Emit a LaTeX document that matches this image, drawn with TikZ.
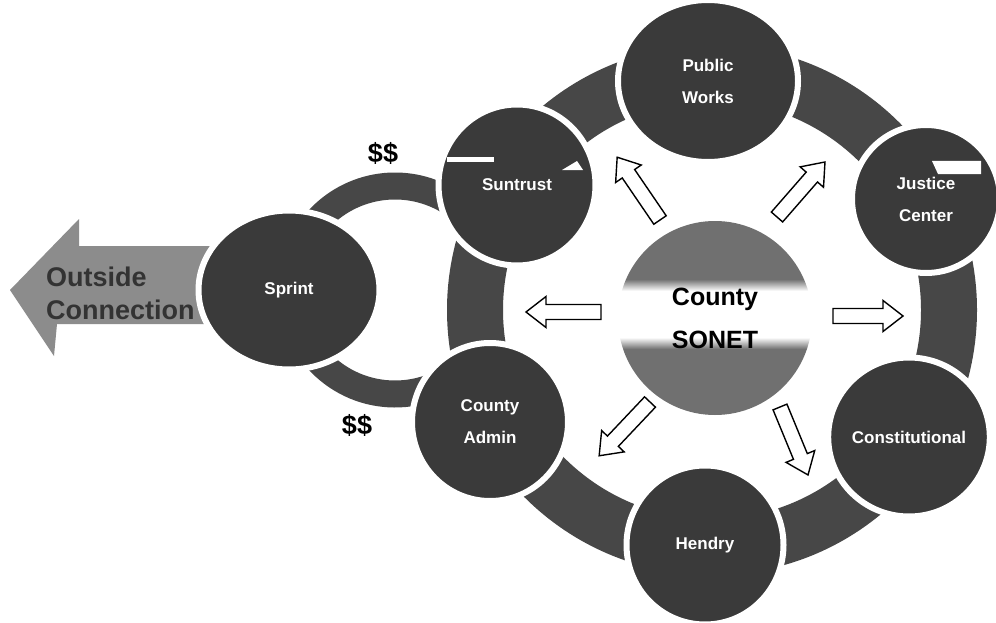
\documentclass[tikz,border=0pt]{standalone}
\usepackage{fontspec}
\setmainfont{Liberation Sans}
\usetikzlibrary{shapes.geometric}
\definecolor{nodegray}{HTML}{3A3A3A}
\definecolor{bandgray}{HTML}{474747}
\definecolor{sgray}{HTML}{707070}
\definecolor{arrgray}{HTML}{8C8C8C}
\definecolor{txtgray}{HTML}{333333}
\pgfdeclareverticalshading{sonetshade}{100bp}{color(0bp)=(sgray); color(42bp)=(sgray); color(45bp)=(white); color(57bp)=(white); color(60bp)=(sgray); color(100bp)=(sgray)}
\newcommand\myblockarrow[3]{%
  \draw[blockarr, shift={(#1)}, rotate=#2] (0,-7.5) -- ({#3-20},-7.5) -- ({#3-20},-15.5) -- (#3,0) -- ({#3-20},15.5) -- ({#3-20},7.5) -- (0,7.5) -- cycle;}
\begin{document}
\begin{tikzpicture}[x=1pt,y=-1pt,
  dnode/.style={ellipse, fill=nodegray, draw=white, line width=6pt, text=white,
    font=\fontsize{17}{32}\selectfont\bfseries, align=center, inner sep=0pt},
  band/.style={draw=bandgray, line width=56pt},
  smallband/.style={draw=bandgray, line width=27pt},
  blockarr/.style={draw=black, fill=white, line width=1.4pt, line join=miter},
  money/.style={font=\fontsize{27}{27}\selectfont\bfseries, text=black, inner sep=0pt},
  hilite/.style={fill=white, draw=none}]
\fill[white] (0,0) rectangle (996,623);
\useasboundingbox (0,0) rectangle (996,623);
\coordinate (sr) at (395,290);
\coordinate (rc) at (712,310);
% small ring
\draw[smallband] ([shift={(40:104)}]sr) arc[start angle=40, end angle=320, radius=104];
% outside connection arrow
\fill[arrgray] (10,290) -- (79,219) -- (79,246) -- (225,246) -- (225,324) -- (57,324) -- (54,356) -- cycle;
\node[font=\fontsize{27}{33}\selectfont\bfseries, text=txtgray, align=left, anchor=west, inner sep=0pt] (oc) at (46,293) {Outside\\Connection};
% sprint
\node[dnode, minimum width=181pt, minimum height=159pt] (sprint) at (289,290) {Sprint};
% main ring
\draw[band] (rc) circle[radius=237];
\node[dnode, minimum width=180pt, minimum height=162pt] (pw) at (708,81) {Public\\Works};
\node[dnode, minimum width=157pt, minimum height=161pt] (suntrust) at (517,185) {Suntrust};
\node[dnode, minimum width=148pt, minimum height=148pt] (justice) at (926,199) {Justice\\Center};
\node[dnode, minimum width=156pt, minimum height=159pt] (const) at (909,437) {Constitutional};
\node[dnode, minimum width=157pt, minimum height=159pt] (hendry) at (705,545) {Hendry};
\node[dnode, minimum width=156pt, minimum height=158pt] (admin) at (490,422) {County\\Admin};
% highlights
\fill[hilite] (447,157) rectangle (494,162);
\fill[hilite] (562,170) -- (577,161) -- (583,170) -- cycle;
\fill[hilite] (932,161) -- (981,161) -- (981,174) -- (938,174) -- cycle;
% center
\node[circle, minimum size=194pt, shading=sonetshade, inner sep=0pt,
  font=\fontsize{25}{43}\selectfont\bfseries, text=black, align=center] (sonet) at (715,318) {County\\SONET};
% arrows
\coordinate (tW) at (601,312);
\coordinate (tE) at (833,316);
\coordinate (tNW) at (660,220);
\coordinate (tNE) at (777,217);
\coordinate (tSW) at (650,402);
\coordinate (tSE) at (780,407);
\myblockarrow{tW}{180}{75}
\myblockarrow{tE}{0}{70}
\myblockarrow{tNW}{124.3}{76}
\myblockarrow{tNE}{48.9}{73}
\myblockarrow{tSW}{-133.4}{74}
\myblockarrow{tSE}{-67.6}{73.5}
% money
\node[money] (d1) at (383,153) {\$\$};
\node[money] (d2) at (357,425) {\$\$};
\end{tikzpicture}
\end{document}
